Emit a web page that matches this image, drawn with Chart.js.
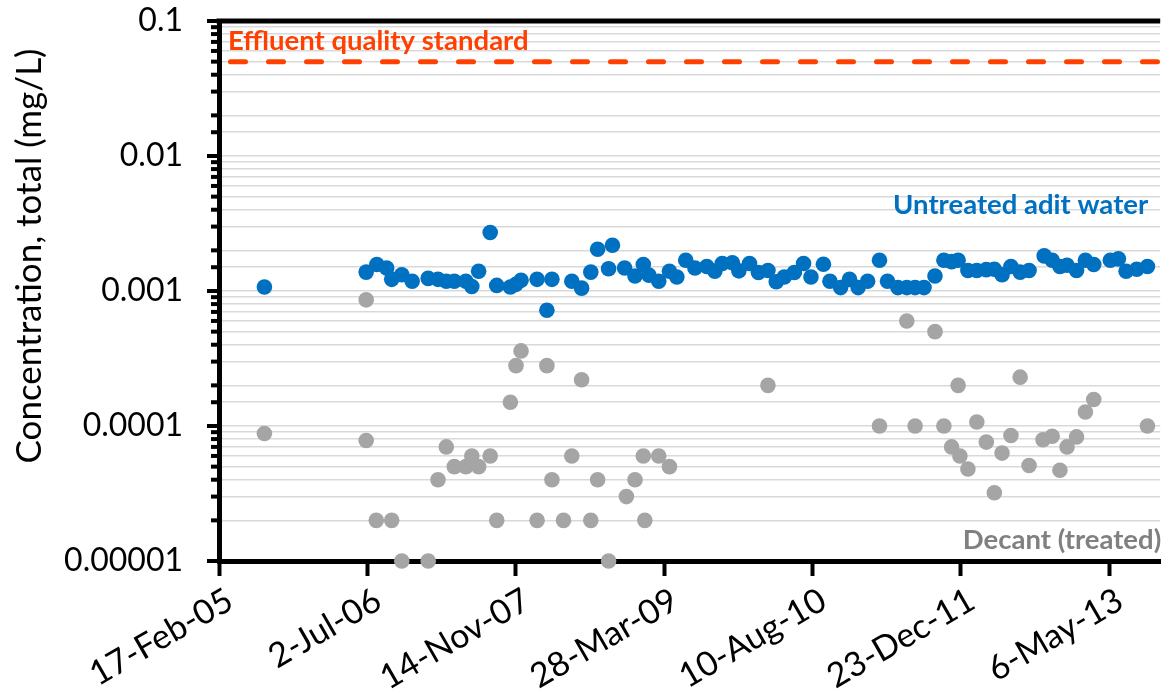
<!DOCTYPE html>
<html>
<head>
<meta charset="utf-8">
<script src="https://cdn.jsdelivr.net/npm/chart.js@4.4.1/dist/chart.umd.min.js"></script>
<style>
    html, body { margin: 0; padding: 0; background: #fff; overflow: hidden; }
</style>
</head>
<body>
<canvas id="chart" width="1168" height="693"></canvas>
<script>
const xTickDates = ['2005-02-17', '2006-07-02', '2007-11-14', '2009-03-28', '2010-08-10', '2011-12-23', '2013-05-06']
const xRange = ['2005-02-17', '2013-10-25']
const yTickLabels = ['0.00001', '0.0001', '0.001', '0.01', '0.1']
const standardValue = 0.05

const untreatedDates = [
    '2005-07-20', '2006-06-28', '2006-08-03', '2006-09-05', '2006-09-22', '2006-10-26', '2006-11-30',
    '2007-01-23', '2007-02-25', '2007-03-25', '2007-04-21', '2007-05-30', '2007-06-19', '2007-07-12',
    '2007-08-20', '2007-09-11', '2007-10-27', '2007-11-15', '2007-12-02', '2008-01-25', '2008-02-27',
    '2008-03-15', '2008-05-21', '2008-06-23', '2008-07-24', '2008-08-16', '2008-09-22', '2008-10-05',
    '2008-11-15', '2008-12-20', '2009-01-17', '2009-02-05', '2009-03-10', '2009-04-15', '2009-05-10',
    '2009-06-09', '2009-07-10', '2009-08-19', '2009-09-15', '2009-10-10', '2009-11-13', '2009-12-05',
    '2010-01-10', '2010-02-09', '2010-03-13', '2010-04-10', '2010-05-07', '2010-06-10', '2010-07-11',
    '2010-08-05', '2010-09-16', '2010-10-08', '2010-11-13', '2010-12-13', '2011-01-11', '2011-02-12',
    '2011-03-24', '2011-04-20', '2011-05-25', '2011-06-24', '2011-07-22', '2011-08-21', '2011-09-27',
    '2011-10-27', '2011-11-22', '2011-12-14', '2012-01-16', '2012-02-15', '2012-03-18', '2012-04-14',
    '2012-05-10', '2012-06-09', '2012-07-10', '2012-08-09', '2012-09-29', '2012-10-26', '2012-11-21',
    '2012-12-15', '2013-01-16', '2013-02-15', '2013-03-15', '2013-05-10', '2013-06-06', '2013-07-02',
    '2013-08-07', '2013-09-12'
]
const untreatedValues = [
    0.00107, 0.00138, 0.00157, 0.00148, 0.00122, 0.00132, 0.00118,
    0.00124, 0.00122, 0.00118, 0.00118, 0.00118, 0.00108, 0.00140,
    0.00271, 0.00110, 0.00107, 0.00112, 0.00120, 0.00122, 0.00072,
    0.00122, 0.00118, 0.00105, 0.00138, 0.00204, 0.00146, 0.00218,
    0.00148, 0.00129, 0.00157, 0.00131, 0.00118, 0.00140, 0.00127,
    0.00169, 0.00148, 0.00152, 0.00140, 0.00160, 0.00162, 0.00141,
    0.00160, 0.00137, 0.00142, 0.00117, 0.00127, 0.00137, 0.00160,
    0.00127, 0.00158, 0.00118, 0.00106, 0.00122, 0.00106, 0.00118,
    0.00169, 0.00118, 0.00106, 0.00106, 0.00106, 0.00106, 0.00129,
    0.00169, 0.00165, 0.00169, 0.00142, 0.00142, 0.00144, 0.00145,
    0.00132, 0.00152, 0.00138, 0.00142, 0.00182, 0.00169, 0.00152,
    0.00155, 0.00142, 0.00169, 0.00157, 0.00169, 0.00173, 0.00140,
    0.00145, 0.00152
]

const decantDates = [
    '2005-07-20', '2006-06-28', '2006-06-28', '2006-08-01', '2006-09-22', '2006-10-26', '2007-01-23',
    '2007-02-25', '2007-03-25', '2007-04-21', '2007-05-30', '2007-06-19', '2007-07-12', '2007-08-20',
    '2007-09-11', '2007-10-27', '2007-11-15', '2007-12-02', '2008-01-25', '2008-02-27', '2008-03-15',
    '2008-04-23', '2008-05-21', '2008-06-23', '2008-07-24', '2008-08-16', '2008-09-22', '2008-11-21',
    '2008-12-20', '2009-01-17', '2009-01-22', '2009-03-10', '2009-04-15', '2010-03-13', '2011-03-24',
    '2011-06-24', '2011-07-22', '2011-09-27', '2011-10-27', '2011-11-22', '2011-12-14', '2011-12-20',
    '2012-01-16', '2012-02-15', '2012-03-18', '2012-04-14', '2012-05-10', '2012-06-09', '2012-07-10',
    '2012-08-09', '2012-09-25', '2012-10-26', '2012-11-21', '2012-12-15', '2013-01-16', '2013-02-15',
    '2013-03-15', '2013-09-12'
]
const decantValues = [
    0.000088, 0.00086, 0.000078, 0.00002, 0.00002, 0.00001, 0.00001,
    0.00004, 0.00007, 0.00005, 0.00005, 0.00006, 0.00005, 0.00006,
    0.00002, 0.00015, 0.00028, 0.00036, 0.00002, 0.00028, 0.00004,
    0.00002, 0.00006, 0.00022, 0.00002, 0.00004, 0.00001, 0.00003,
    0.00004, 0.00006, 0.00002, 0.00006, 0.00005, 0.0002, 0.0001,
    0.0006, 0.0001, 0.0005, 0.0001, 0.00007, 0.0002, 0.00006,
    0.000048, 0.000107, 0.000076, 0.000032, 0.000063, 0.000085, 0.00023,
    0.000051, 0.000079, 0.000084, 0.000047, 0.00007, 0.000083, 0.000127,
    0.000157, 0.0001
]

const BLUE = '#0070C0'
const GREY = '#A5A5A5'
const ORANGE = '#FF4000'
const MONTHS = ['Jan', 'Feb', 'Mar', 'Apr', 'May', 'Jun', 'Jul', 'Aug', 'Sep', 'Oct', 'Nov', 'Dec']

const toDay = s => Date.UTC(+s.slice(0, 4), +s.slice(5, 7) - 1, +s.slice(8, 10)) / 86400000
const dayLabel = day => {
    const d = new Date(Math.round(day) * 86400000)
    return `${d.getUTCDate()}-${MONTHS[d.getUTCMonth()]}-${String(d.getUTCFullYear()).slice(2)}`
}
const isDecade = v => Math.abs(Math.log10(v) - Math.round(Math.log10(v))) < 1e-9
const points = (dates, values) => dates.map((d, i) => ({ x: toDay(d), y: values[i] }))

// frame, y tick marks, axis title and the three text labels
const decorations = {
    id: 'decorations',
    beforeDatasetsDraw(chart) {
        const { ctx, chartArea, scales } = chart
        ctx.save()
        ctx.strokeStyle = '#000'
        ctx.lineWidth = 5
        ctx.beginPath()
        ctx.moveTo(chartArea.left - 2.5, chartArea.top)
        ctx.lineTo(chartArea.right, chartArea.top)
        ctx.stroke()

        ctx.lineWidth = 4
        scales.y.ticks.forEach(t => {
            const py = scales.y.getPixelForValue(t.value)
            const len = isDecade(t.value) ? 12 : 8
            ctx.beginPath()
            ctx.moveTo(chartArea.left - len, py)
            ctx.lineTo(chartArea.left, py)
            ctx.stroke()
        })
        ctx.restore()
    },
    afterDraw(chart) {
        const { ctx, chartArea, scales } = chart
        ctx.save()
        ctx.translate(30, 256)
        ctx.rotate(-Math.PI / 2)
        ctx.fillStyle = '#000'
        ctx.font = '35px Lato'
        ctx.textAlign = 'center'
        ctx.textBaseline = 'middle'
        ctx.fillText('Concentration, total (mg/L)', 0, 0)
        ctx.restore()

        ctx.save()
        ctx.font = 'bold 27.5px Lato'
        ctx.textBaseline = 'alphabetic'
        ctx.fillStyle = ORANGE
        ctx.textAlign = 'left'
        ctx.fillText('Effluent quality standard', chartArea.left + 9, scales.y.getPixelForValue(standardValue) - 12)
        ctx.fillStyle = BLUE
        ctx.textAlign = 'right'
        ctx.fillText('Untreated adit water', chartArea.right - 12, scales.y.getPixelForValue(0.0043) + 9)
        ctx.fillStyle = '#808080'
        ctx.fillText('Decant (treated)', chartArea.right + 1, scales.y.getPixelForValue(0.0000142) + 9)
        ctx.restore()
    }
}

Chart.defaults.font.family = 'Lato'
Chart.defaults.color = '#000'

new Chart(document.getElementById('chart'), {
    type: 'scatter',
    data: {
        datasets: [
            {
                label: 'Untreated adit water',
                data: points(untreatedDates, untreatedValues),
                backgroundColor: BLUE,
                borderWidth: 0,
                pointRadius: 7.8,
                clip: false
            },
            {
                label: 'Decant (treated)',
                data: points(decantDates, decantValues),
                backgroundColor: GREY,
                borderWidth: 0,
                pointRadius: 7.8,
                clip: false
            },
            {
                label: 'Effluent quality standard',
                type: 'line',
                data: points(xRange, [standardValue, standardValue]),
                borderColor: ORANGE,
                borderWidth: 5,
                borderDash: [15, 23],
                borderDashOffset: 26.5,
                borderCapStyle: 'round',
                pointRadius: 0
            }
        ]
    },
    options: {
        responsive: false,
        animation: false,
        devicePixelRatio: 1,
        layout: { padding: { top: 21, left: 0, right: 0, bottom: 0 } },
        plugins: { legend: { display: false }, tooltip: { enabled: false } },
        scales: {
            x: {
                type: 'linear',
                min: toDay(xRange[0]),
                max: toDay(xRange[1]),
                afterFit: scale => {
                    scale.height = 132
                    scale.paddingLeft = 0
                    scale.paddingRight = 0
                },
                afterBuildTicks: scale => { scale.ticks = xTickDates.map(d => ({ value: toDay(d) })) },
                grid: { drawOnChartArea: false, drawTicks: true, tickLength: 15, tickWidth: 4, tickColor: '#000' },
                border: { color: '#000', width: 5 },
                ticks: {
                    autoSkip: false,
                    minRotation: 30,
                    maxRotation: 30,
                    padding: 4,
                    labelOffset: 11,
                    font: { size: 34 },
                    callback: v => dayLabel(v)
                }
            },
            y: {
                type: 'logarithmic',
                min: 0.00001,
                max: 0.1,
                afterFit: scale => {
                    scale.width = 219
                    scale.paddingTop = 0
                    scale.paddingBottom = 0
                },
                grid: { color: '#D9D9D9', lineWidth: 1.5, drawTicks: false },
                border: { color: '#000', width: 5 },
                ticks: {
                    autoSkip: false,
                    padding: 36,
                    font: { size: 32 },
                    callback: v => isDecade(v) ? yTickLabels[Math.round(Math.log10(v)) + 5] : ''
                }
            }
        }
    },
    plugins: [decorations]
})
</script>
</body>
</html>
